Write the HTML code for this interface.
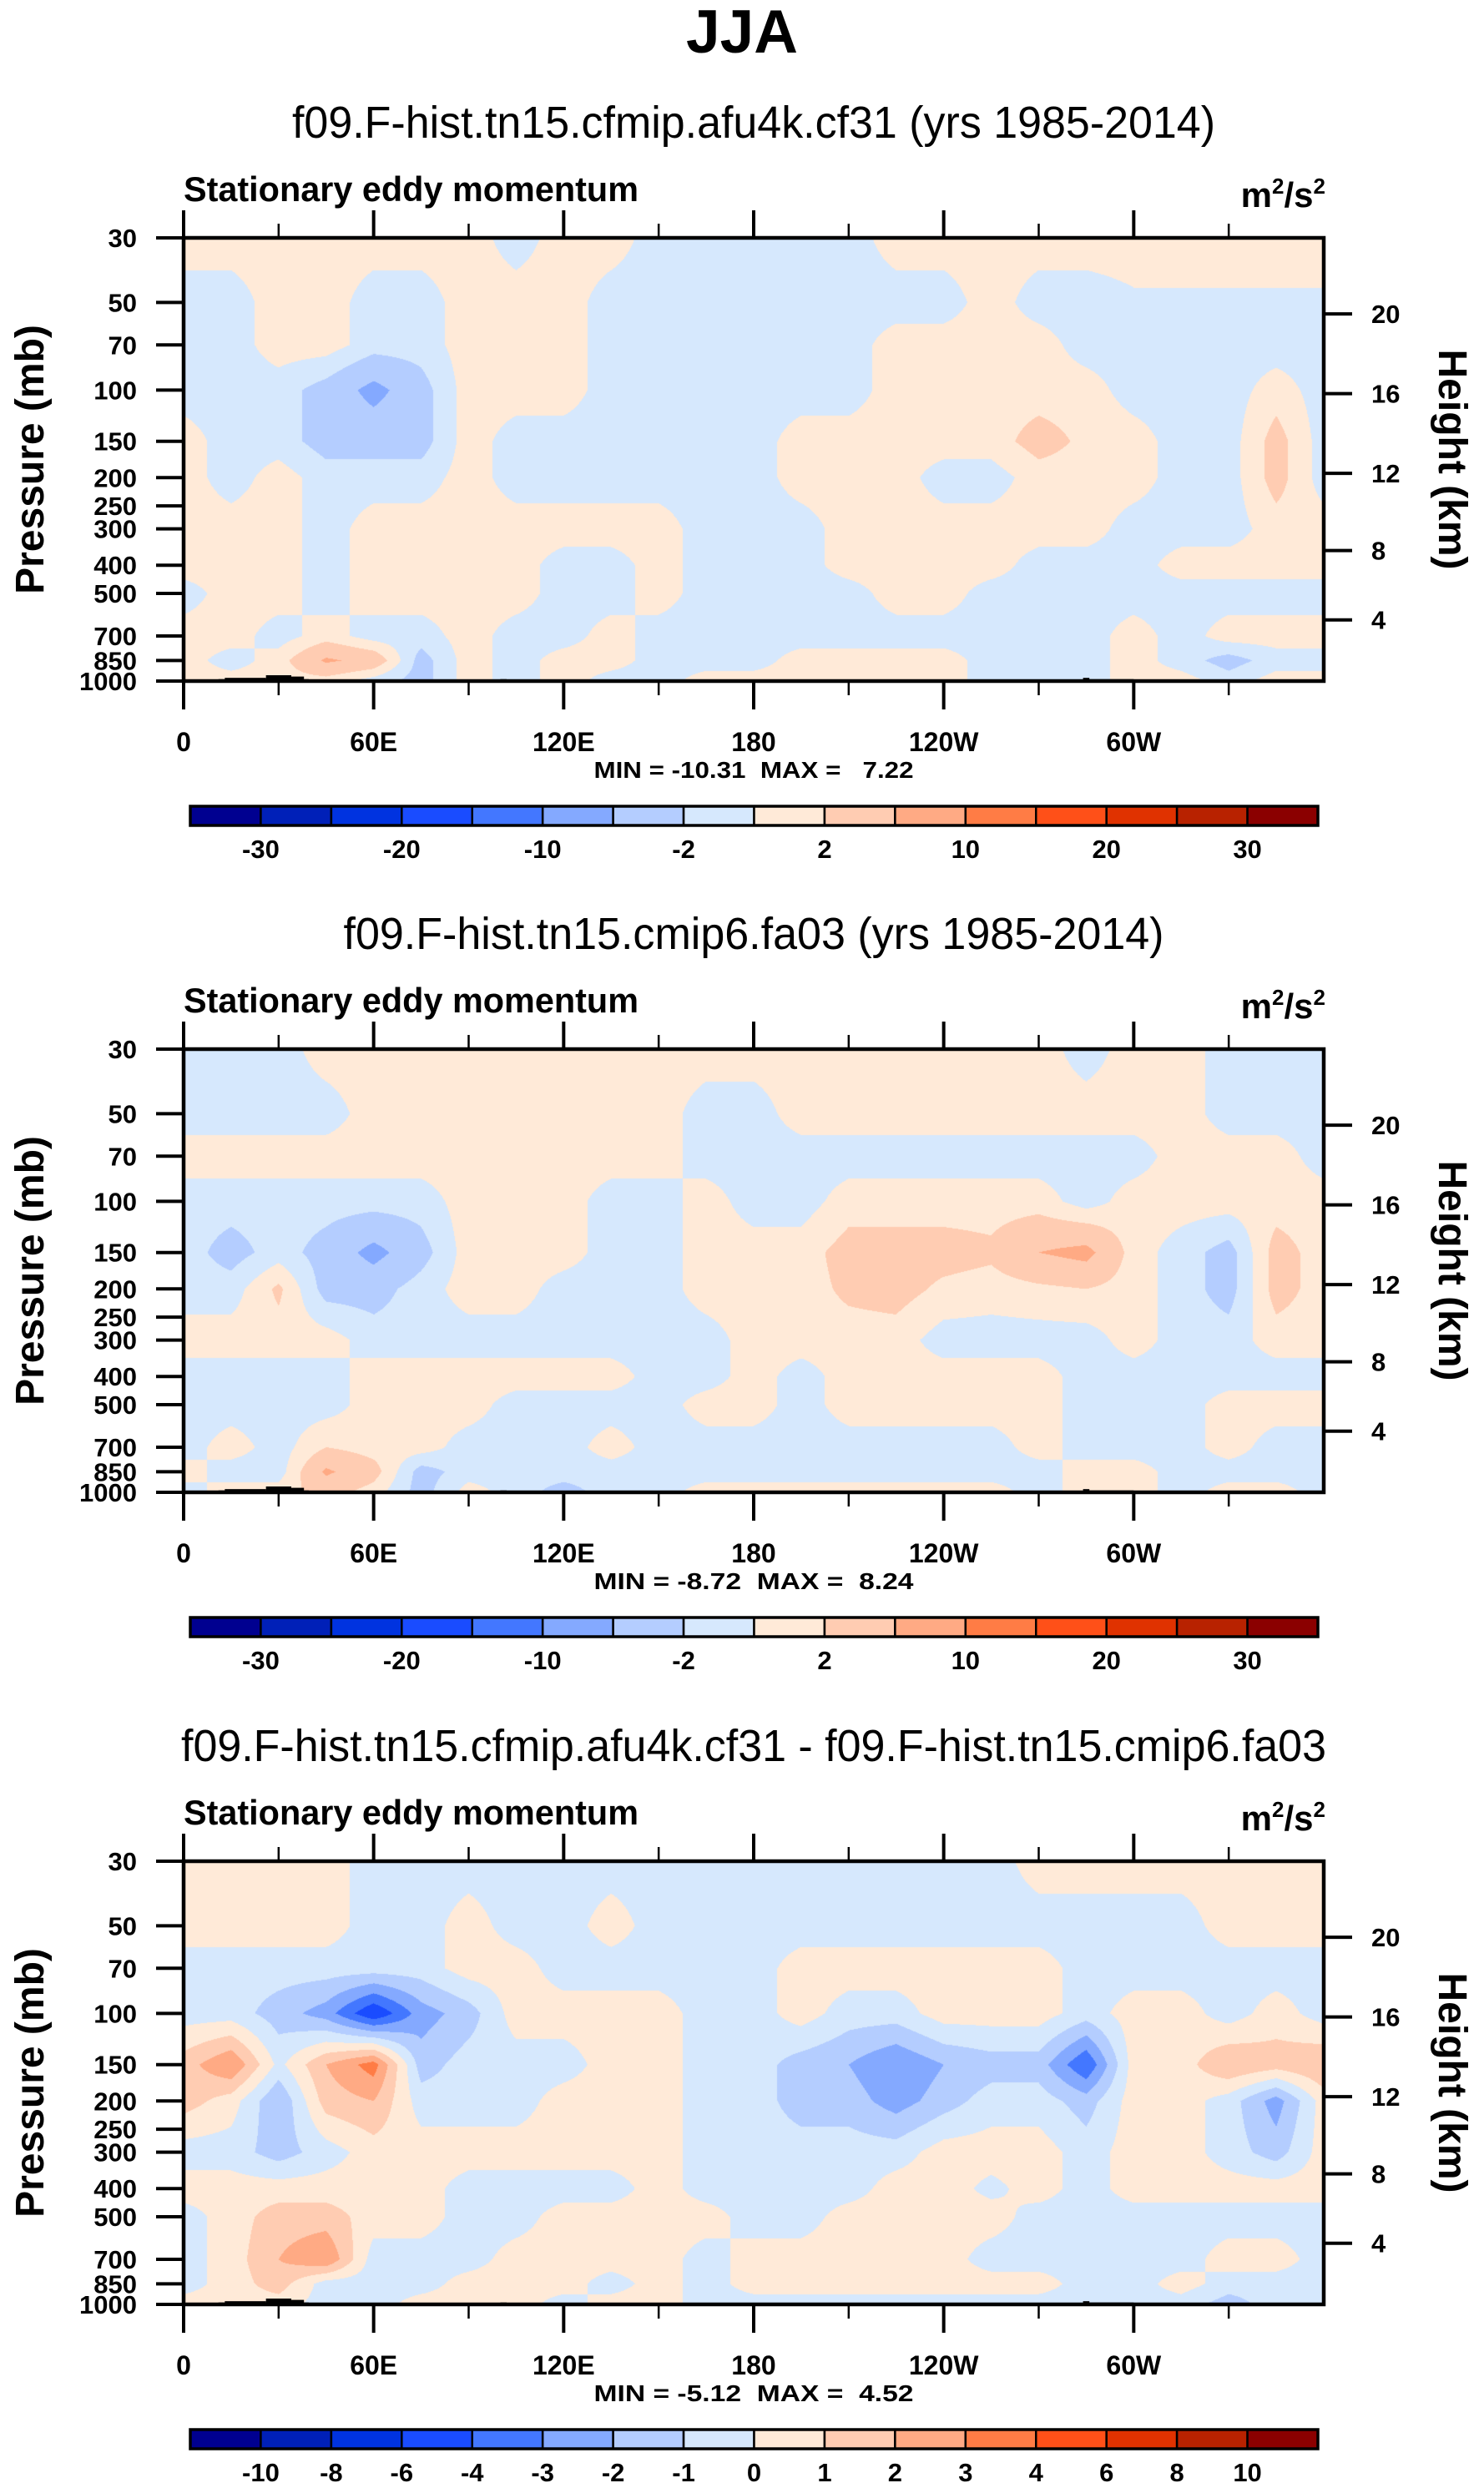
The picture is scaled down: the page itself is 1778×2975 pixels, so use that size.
<!DOCTYPE html>
<html><head><meta charset="utf-8">
<style>
html,body{margin:0;padding:0;background:#fff;}
body{width:1778px;height:2975px;position:relative;overflow:hidden;font-family:"Liberation Sans",Arial,sans-serif;}
canvas{position:absolute;}
svg{position:absolute;left:0;top:0;}
</style></head>
<body>
<svg id="ov" width="1778" height="2975">
<text x="889" y="63" font-size="73" font-weight="bold" text-anchor="middle" font-family="Liberation Sans, sans-serif">JJA</text>
</svg>
<script>
// ---- data ----
const lons=[0,15,30,45,60,75,90,105,120,135,150,165,180,195,210,225,240,255,270,285,300,315,330,345,360];
const levels=[30,50,70,100,150,200,300,400,500,700,850,1000];
const field1=[
[1,1,1,1,1,1,1,-1,1,1,-1,-1,-1,-1,-1,1,1,1,1,1,1,1,1,1,1],
[-1,-1,1,1,-1,-1,1,1,1,-1,-1,-1,-1,-1,-1,-1,-1,1,-1,-1,-0.3,-0.3,-0.3,-0.3,-0.3],
[-1,-1,1,1,-1,-1,1,1,1,-1,-1,-1,-1,-1,-1,1,1,1,1,-1,-1,-1,-1,-1,-1],
[-1,-1,-1,-3,-6,-3,1,1,1,-1,-1,-1,-1,-1,-1,1,1,1,1,1,-1,-1,-1,1,-1],
[1,-1,-1,-3,-3,-3,1,-1,-1,-1,-1,-1,-1,1,1,1,1,1,3,1.5,1,-1,-1,3,-1],
[1,-1,1,-1,-1,-1,1,-1,-1,-1,-1,-1,-1,1,1,1,-1,-1,1,1,1,-1,-1,3,-1],
[1,1,1,-1,1,1,1,1,1,1,1,-1,-1,-1,1,1,1,1,1,1,-1,-1,-1,1,1],
[1,1,1,-1,1,1,1,1,-1,-1,1,-1,-1,-1,1,1,1,1,-1,-1,-1,1,1,1,1],
[-1,1,1,-1,1,1,1,1,-1,-1,1,-1,-1,-1,-1,1,1,-1,-1,-1,-1,-1,-1,-1,-1],
[1,1,-1,1,-1,-1,1,-1,-1,1,-1,-1,-1,-1,-1,-1,-1,-1,-1,-1,1,-1,1,1,1],
[1,-1,1,5.5,4,-3,1,-1,1,1,-1,-1,-1,1,1,1,1,-1,-1,-1,1,-1,-3,-1,-1],
[1,1,1,1,-1,-3,1,-1,1,-1,-1,1,1,1,1,1,1,-1,-1,-1,1,1,-1,1,1]];
const field2=[
[-1,-1,-1,1,1,1,1,1,1,1,1,1,1,1,1,1,1,1,1,-1,1,1,-1,-1,-1],
[-1,-1,-1,-1,1,1,1,1,1,1,1,-1,-1,1,1,1,1,1,1,1,1,1,-1,-1,-1],
[1,1,1,1,1,1,1,1,1,1,1,-1,-1,-1,-1,-1,-1,-1,-1,-1,-1,1,1,1,-1],
[-1,-1,-1,-1,-1,-1,1,1,1,-1,-1,1,-1,-1,1,1,1,1,1,-1,1,1,1,1,1],
[-1,-3,-1,-3,-6,-3,1,1,1,-1,-1,1,1,1,3,3,3,2.5,5,6,1,-1,-3,3,1],
[-1,-1,2.5,-3,-3,-1,1,1,-1,-1,-1,1,1,1,2.5,3,1.5,1,1.5,2,1,-1,-3,3,1],
[1,1,1,1,-1,-1,-1,-1,-1,-1,-1,-1,1,1,1,1,-1,-1,-1,-1,1,-1,-1,1,1],
[-1,-1,-1,-1,1,1,1,1,1,1,-1,-1,1,-1,1,1,1,1,1,-1,-1,-1,-1,-1,-1],
[-1,-1,-1,-1,1,1,1,-1,-1,-1,-1,1,1,-1,1,1,1,1,1,-1,-1,-1,1,1,1],
[-1,1,-1,2,1,1,-1,-1,-1,1,-1,-1,-1,-1,-1,-1,-1,-1,1,-1,-1,-1,1,-1,-1],
[1,-1,-1,5.5,3,-3,-1,-1,-1,-1,-1,-1,-1,-1,-1,-1,-1,-1,-1,1,1,-1,-1,-1,-1],
[-1,1,1,3,1,-3,1,-1,-3,-1,-1,1,1,1,1,1,1,1,-1,1,1,-1,1,1,-1]];
const field3=[
[0.5,0.5,0.5,0.5,-0.5,-0.5,-0.5,-0.5,-0.5,-0.5,-0.5,-0.5,-0.5,-0.5,-0.5,-0.5,-0.5,-0.5,0.5,0.5,0.5,0.5,0.5,0.5,0.5],
[0.5,0.5,0.5,0.5,-0.5,-0.5,0.5,-0.5,-0.5,0.5,-0.5,-0.5,-0.5,-0.5,-0.5,-0.5,-0.5,-0.5,-0.5,-0.5,-0.5,-0.5,0.5,0.5,0.5],
[-0.5,-0.5,-0.5,-0.5,-0.5,-0.5,0.5,0.5,-0.5,-0.5,-0.5,-0.5,-0.5,0.5,0.5,0.5,0.5,0.5,0.5,-0.5,-0.5,-0.5,-0.5,-0.5,-0.5],
[-0.5,-0.5,-1.5,-2.5,-5,-2.5,-1.5,0.5,0.5,0.5,0.5,-0.5,-0.5,0.5,-0.5,-0.5,0.5,0.5,0.5,-0.5,0.5,0.5,-0.5,0.5,-0.5],
[1.5,3,-0.3,2,3.5,-1.5,-0.5,-0.5,-0.5,0.5,0.5,-0.5,-0.5,-1.5,-2,-3,-2,-1.5,-1.5,-4,0.5,0.5,2,1.5,2],
[1.5,0.5,-2,1.5,2,-0.5,-0.5,-0.5,0.5,0.5,0.5,-0.5,-0.5,-1.5,-1.5,-2.5,-1.5,-0.5,-0.5,-1.5,0.5,0.5,-0.5,-2.5,0.5],
[-0.5,-0.5,-1.5,-0.5,0.5,0.5,0.5,0.5,0.5,0.5,0.5,-0.5,-0.5,-0.5,-0.5,-0.5,0.5,0.5,0.5,-0.5,0.5,0.5,-0.5,-1.5,0.5],
[0.5,0.5,0.5,0.5,0.5,0.5,-0.5,-0.5,-0.5,-0.5,0.5,-0.5,-0.5,-0.5,-0.5,0.5,0.5,-0.3,0.5,-0.5,0.5,0.5,0.5,0.5,0.5],
[-0.5,0.5,1.5,1.5,0.5,0.5,-0.5,-0.5,0.5,0.5,0.5,0.5,-0.5,-0.5,0.5,0.5,0.5,0.5,-0.5,-0.5,-0.5,-0.5,-0.5,-0.5,-0.5],
[-0.5,0.5,2,3,-0.5,-0.5,-0.5,0.5,0.5,0.5,0.5,-0.5,0.5,0.5,0.5,0.5,0.5,-0.5,-0.5,-0.5,-0.5,-0.5,0.5,0.5,-0.5],
[-0.5,0.5,1.5,-0.5,-0.5,-0.5,0.5,0.5,0.5,-0.5,0.5,-0.5,0.5,0.5,0.5,0.5,0.5,0.5,0.5,-0.5,-0.5,0.5,-0.5,-0.5,-0.5],
[0.5,0.5,0.5,-0.5,-0.5,0.5,0.5,0.5,-0.5,0.5,0.5,-0.5,-0.5,-0.5,-0.5,-0.5,-0.5,-0.5,-0.5,-0.5,-0.5,-0.5,-1.5,-0.5,-0.5]];
const bounds12=[-30,-25,-20,-15,-10,-5,-2,0,2,5,10,15,20,25,30];
const labels12=["-30","","-20","","-10","","-2","","2","","10","","20","","30"];
const bounds3=[-10,-8,-6,-4,-3,-2,-1,0,1,2,3,4,6,8,10];
const labels3=["-10","-8","-6","-4","-3","-2","-1","0","1","2","3","4","6","8","10"];
const subtitles=["f09.F-hist.tn15.cfmip.afu4k.cf31 (yrs 1985-2014)","f09.F-hist.tn15.cmip6.fa03 (yrs 1985-2014)","f09.F-hist.tn15.cfmip.afu4k.cf31 - f09.F-hist.tn15.cmip6.fa03"];
const minmax=["MIN = -10.31  MAX =   7.22","MIN = -8.72  MAX =  8.24","MIN = -5.12  MAX =  4.52"];
const pTicks=[30,50,70,100,150,200,250,300,400,500,700,850,1000];
const kmTicks=[4,8,12,16,20];
const lonTicks=[0,60,120,180,240,300];
const lonLabels=["0","60E","120E","180","120W","60W"];
const minorLon=[30,90,150,210,270,330];
const topoStart=[11,13,26,34,38,100,284,286];
const topoEnd=[13,26,34,38,39.5,102,286,300];
const topoP=[985,975,955,965,985,985,975,985];
const colors=['#000090','#0020b8','#0033e0','#1a4cff','#4377ff','#84a9ff','#b4cdff','#d6e8fd','#ffead8','#ffccb2','#ffaa84','#ff7c45','#ff5018','#e03200','#b82200','#8b0000'];

// ---- geometry ----
const L=220,W=1366,H=531,PT=[285,1257,2230];
const LN=Math.log(1000/30);
function xOf(lon){return L+lon/360*W;}
function yOf(p,top){return top+Math.log(p/30)/LN*H;}
function pOfKm(z){const m=z*1000;return m<=11000?1013.25*Math.pow(1-2.25577e-5*m,5.25588):226.32*Math.exp(-(m-11000)/6341.6);}
const svg=document.getElementById('ov');
const NS='http://www.w3.org/2000/svg';
function mk(tag,a,txt){const e=document.createElementNS(NS,tag);for(const k in a)e.setAttribute(k,a[k]);if(txt!==undefined)e.textContent=txt;svg.appendChild(e);return e;}
function hex(c){return [parseInt(c.substr(1,2),16),parseInt(c.substr(3,2),16),parseInt(c.substr(5,2),16)];}
const rgb=colors.map(hex);
function cls(v,b){let c=0;for(const x of b){if(v>=x)c++;}return c;}

const fields=[field1,field2,field3];
const bset=[bounds12,bounds12,bounds3];
const lset=[labels12,labels12,labels3];
const lnLev=levels.map(p=>Math.log(p));

fields.forEach((F,k)=>{
  const top=PT[k];
  const cv=document.createElement('canvas');
  cv.width=W;cv.height=H;cv.style.left=L+'px';cv.style.top=top+'px';
  
  
  document.body.insertBefore(cv,svg);
  const ctx=cv.getContext('2d');const img=ctx.createImageData(W,H);const d=img.data;
  for(let py=0;py<H;py++){
    const lp=Math.log(30)+(py+0.5)/H*LN;
    let i=0;while(i<levels.length-2&&lp>lnLev[i+1])i++;
    let t=(lp-lnLev[i])/(lnLev[i+1]-lnLev[i]);t=Math.max(0,Math.min(1,t));
    const r0=F[i],r1=F[i+1];
    for(let px=0;px<W;px++){
      const lon=(px+0.5)/W*360;let j=Math.floor(lon/15);if(j>23)j=23;const s=(lon-lons[j])/15;
      const v=(r0[j]*(1-s)+r0[j+1]*s)*(1-t)+(r1[j]*(1-s)+r1[j+1]*s)*t;
      const c=rgb[cls(v,bset[k])];const o=(py*W+px)*4;
      d[o]=c[0];d[o+1]=c[1];d[o+2]=c[2];d[o+3]=255;
    }
  }
  ctx.putImageData(img,0,0);

  for(let q=0;q<topoStart.length;q++){
    const x0=xOf(topoStart[q]),x1=xOf(topoEnd[q]),y0=yOf(topoP[q],top);
    const r=mk('rect',{x:x0,y:y0,width:x1-x0,height:top+H-y0,fill:'#000'});
    
    
  }
  const fr=mk('rect',{x:L,y:top,width:W,height:H,fill:'none',stroke:'#000','stroke-width':4.5});
  
  

  const st=mk('text',{x:903,y:top-120,'font-size':54,'text-anchor':'middle','font-family':'Liberation Sans, sans-serif',textLength:[1106,983,1372][k],lengthAdjust:'spacingAndGlyphs'},subtitles[k]);
  
  
  const lt=mk('text',{x:L,y:top-44,'font-size':42,'font-weight':'bold','font-family':'Liberation Sans, sans-serif',textLength:545,lengthAdjust:'spacingAndGlyphs'},'Stationary eddy momentum');
  
  
  const ut=mk('text',{x:1588,y:top-37,'font-size':42,'font-weight':'bold','text-anchor':'end','font-family':'Liberation Sans, sans-serif'});
  
  
  ut.innerHTML='m<tspan dy="-16" font-size="26">2</tspan><tspan dy="16">/s</tspan><tspan dy="-16" font-size="26">2</tspan>';

  pTicks.forEach(p=>{
    const y=yOf(p,top);
    const tl=mk('line',{x1:187,x2:L,y1:y,y2:y,stroke:'#000','stroke-width':4});
    
    
    const tx=mk('text',{x:164,y:y+11,'font-size':31,'font-weight':'bold','text-anchor':'end','font-family':'Liberation Sans, sans-serif'},String(p));
    
    
  });
  kmTicks.forEach(z=>{
    const y=yOf(pOfKm(z),top);
    const tl=mk('line',{x1:L+W,x2:1620,y1:y,y2:y,stroke:'#000','stroke-width':4});
    
    
    const tx=mk('text',{x:1643,y:y+11,'font-size':31,'font-weight':'bold','font-family':'Liberation Sans, sans-serif'},String(z));
    
    
  });
  lonTicks.forEach((lon,q)=>{
    const x=xOf(lon);
    const a=mk('line',{x1:x,x2:x,y1:top-33,y2:top,stroke:'#000','stroke-width':4});
    
    
    const b=mk('line',{x1:x,x2:x,y1:top+H,y2:top+H+34,stroke:'#000','stroke-width':4});
    
    
    const tx=mk('text',{x:x,y:top+H+84,'font-size':32,'font-weight':'bold','text-anchor':'middle','font-family':'Liberation Sans, sans-serif'},lonLabels[q]);
    
    
  });
  minorLon.forEach(lon=>{
    const x=xOf(lon);
    const a=mk('line',{x1:x,x2:x,y1:top-17,y2:top,stroke:'#000','stroke-width':2.5});
    
    
    const b=mk('line',{x1:x,x2:x,y1:top+H,y2:top+H+17,stroke:'#000','stroke-width':2.5});
    
    
  });
  const cy=top+H/2;
  const pa=mk('text',{x:0,y:0,'font-size':48,'font-weight':'bold','text-anchor':'middle','font-family':'Liberation Sans, sans-serif',transform:'translate(52,'+cy+') rotate(-90)'},'Pressure (mb)');
  
  
  const ha=mk('text',{x:0,y:0,'font-size':48,'font-weight':'bold','text-anchor':'middle','font-family':'Liberation Sans, sans-serif',transform:'translate(1724,'+cy+') rotate(90)'},'Height (km)');
  
  
  const mm=mk('text',{x:903,y:top+H+116,'font-size':28,'font-weight':'bold','text-anchor':'middle','font-family':'Liberation Sans, sans-serif','xml:space':'preserve',style:'white-space:pre',textLength:383,lengthAdjust:'spacingAndGlyphs'},minmax[k]);
  
  
  const cbL=228,cbW=1351,cbT=top+681,cbH=23,bw=cbW/16;
  colors.forEach((c,q)=>{
    const r=mk('rect',{x:cbL+q*bw,y:cbT,width:bw,height:cbH,fill:c,stroke:'#000','stroke-width':2.5});
    
    
  });
  const ob=mk('rect',{x:cbL,y:cbT,width:cbW,height:cbH,fill:'none',stroke:'#000','stroke-width':3.5});
  
  
  lset[k].forEach((lab,q)=>{
    if(!lab)return;
    const tx=mk('text',{x:cbL+(q+1)*bw,y:cbT+62,'font-size':31,'font-weight':'bold','text-anchor':'middle','font-family':'Liberation Sans, sans-serif'},lab);
    
    
  });
});
</script>
</body></html>
